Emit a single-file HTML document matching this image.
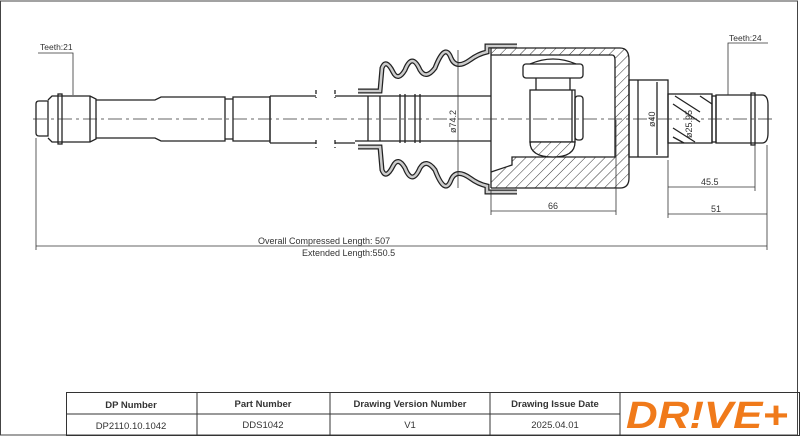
<!DOCTYPE html>
<html><head><style>
html,body{margin:0;padding:0;background:#fff;}
svg{display:block;}
text{font-family:"Liberation Sans",sans-serif;fill:#333;}
</style></head><body>
<svg width="800" height="436" viewBox="0 0 800 436" xmlns="http://www.w3.org/2000/svg">
<defs>
<pattern id="h" patternUnits="userSpaceOnUse" width="7" height="7" patternTransform="rotate(45)">
<rect width="7" height="7" fill="#fff"/><line x1="0" y1="0" x2="0" y2="7" stroke="#333" stroke-width="1"/>
</pattern>
</defs>
<rect x="0.5" y="1" width="797" height="434" fill="none" stroke="#444" stroke-width="1"/>
<g fill="none" stroke="#222" stroke-width="1.3">
<path d="M36,104 Q36,101 39,101 L48,101 L48,136 L39,136 Q36,136 36,133 Z"/>
<path d="M48,100 L52,96 L90,96 L96,99 L96,139 L90,142 L52,142 L48,138"/>
<rect x="58" y="94" width="4" height="50"/>
<line x1="90" y1="96" x2="90" y2="142"/>
<path d="M96,100 L155,100 L161,97 L225,97 L225,141 L161,141 L155,138 L96,138"/>
<path d="M225,99 L233,99 M225,139 L233,139"/>
<path d="M233,97 L270,97 L270,141 L233,141 Z"/>
<path d="M270,96 L316,96 M270,143 L316,143 M270,96 L270,143"/>
<path d="M316,90 L316,98 M316,140 L316,148 M335,90 L335,98 M335,140 L335,148" stroke-dasharray="4,3"/>
<path d="M335,96 L355,96 M335,143 L355,143"/>
<path d="M355,96 L530,96 M355,141 L530,141"/>
<path d="M368,96 V141 M380,96 V141 M400,94 V143 M405,94 V143 M415,94 V143 M420,94 V143"/>
<path d="M491,48 L620,48 Q629,48 629,60 L629,178 Q629,188 620,188 L491,188" fill="url(#h)"/>
<path d="M491,55 L612,55 Q615,55 615,60 L615,157 L512,157 L512,165 L491,172" fill="#fff"/>
<line x1="491" y1="48" x2="491" y2="188"/>
<rect x="523" y="64" width="60" height="14" rx="3"/>
<path d="M530,64 Q553,54 576,64"/>
<path d="M536,78 L536,90 M570,78 L570,90"/>
<rect x="530" y="90" width="45" height="52" fill="#fff"/>
<path d="M530,142 L575,142 Q575,157 553,157 Q530,157 530,142 Z" fill="url(#h)"/>
<rect x="575" y="96" width="8" height="44" rx="3"/>
<line x1="572" y1="90" x2="572" y2="142"/>
<rect x="629" y="80" width="39" height="77"/>
<line x1="638" y1="80" x2="638" y2="157"/><line x1="657" y1="82" x2="657" y2="155"/>
<rect x="668" y="94" width="44" height="49"/>
<path d="M675,96 L700,112 M673,104 L700,122 M673,128 L695,142 M673,137 L684,143 M700,96 L712,104"/>
<rect x="712" y="96" width="4" height="46"/>
<path d="M716,95 L762,95 Q768,95 768,105 L768,133 Q768,143 762,143 L716,143 Z"/>
<rect x="751" y="93" width="4" height="52"/>
</g>
<g fill="none">
<path id="bt" d="M358,91 L380,91 L382,68 Q386,58 393,72 Q398,82 405,70 Q412,52 420,70 Q426,80 435,68 Q445,42 451,58 Q456,70 470,60 Q478,54 487,52 L487,46 L517,46"/>
<use href="#bt" stroke="#222" stroke-width="5"/>
<use href="#bt" stroke="#ccc" stroke-width="2.5"/>
<g transform="translate(0,238) scale(1,-1)">
<use href="#bt" stroke="#222" stroke-width="5"/>
<use href="#bt" stroke="#ccc" stroke-width="2.5"/>
</g>
</g>
<line x1="33" y1="119" x2="775" y2="119" stroke="#333" stroke-width="0.8" stroke-dasharray="14,4,3,4"/>
<g stroke="#333" stroke-width="0.8" fill="none">
<line x1="458" y1="50" x2="458" y2="188"/>
<line x1="491" y1="190" x2="491" y2="215"/><line x1="616" y1="120" x2="616" y2="215"/>
<line x1="491" y1="211" x2="616" y2="211"/>
<line x1="668" y1="160" x2="668" y2="218"/><line x1="755" y1="145" x2="755" y2="191"/>
<line x1="767" y1="145" x2="767" y2="250"/>
<line x1="668" y1="187" x2="755" y2="187"/><line x1="668" y1="214" x2="767" y2="214"/>
<line x1="36" y1="138" x2="36" y2="250"/>
<line x1="36" y1="246" x2="767" y2="246"/>
<polyline points="38,53 73,53 73,95"/>
<polyline points="768,43 728,43 728,95"/>
</g>
<g font-size="9">
<text x="40" y="50" font-size="8.5">Teeth:21</text>
<text x="729" y="41" font-size="8.5">Teeth:24</text>
<text x="258" y="244">Overall  Compressed  Length: 507</text>
<text x="302" y="256">Extended  Length:550.5</text>
<text x="548" y="209">66</text>
<text x="701" y="185">45.5</text>
<text x="711" y="212">51</text>
<text transform="translate(456,133) rotate(-90)">ø74.2</text>
<text transform="translate(655,127) rotate(-90)">ø40</text>
<text transform="translate(692,138) rotate(-90)">ø25.95</text>
</g>
<g stroke="#333" stroke-width="1" fill="none">
<rect x="66.5" y="392.5" width="733" height="43"/>
<line x1="66" y1="414" x2="620" y2="414"/>
<line x1="197" y1="392" x2="197" y2="436"/>
<line x1="330" y1="392" x2="330" y2="436"/>
<line x1="490" y1="392" x2="490" y2="436"/>
<line x1="620" y1="392" x2="620" y2="436"/>
</g>
<g font-size="9.5" text-anchor="middle" fill="#111">
<text x="131" y="408" font-weight="bold">DP Number</text>
<text x="263" y="407" font-weight="bold">Part Number</text>
<text x="410" y="407" font-weight="bold">Drawing Version Number</text>
<text x="555" y="407" font-weight="bold">Drawing Issue Date</text>
<text x="131" y="429">DP2110.10.1042</text>
<text x="263" y="428">DDS1042</text>
<text x="410" y="428">V1</text>
<text x="555" y="428">2025.04.01</text>
</g>
<text x="626" y="428" font-size="38" font-weight="bold" font-style="italic" textLength="162" lengthAdjust="spacingAndGlyphs" style="fill:#f07a1a">DR!VE+</text>
</svg>
</body></html>
